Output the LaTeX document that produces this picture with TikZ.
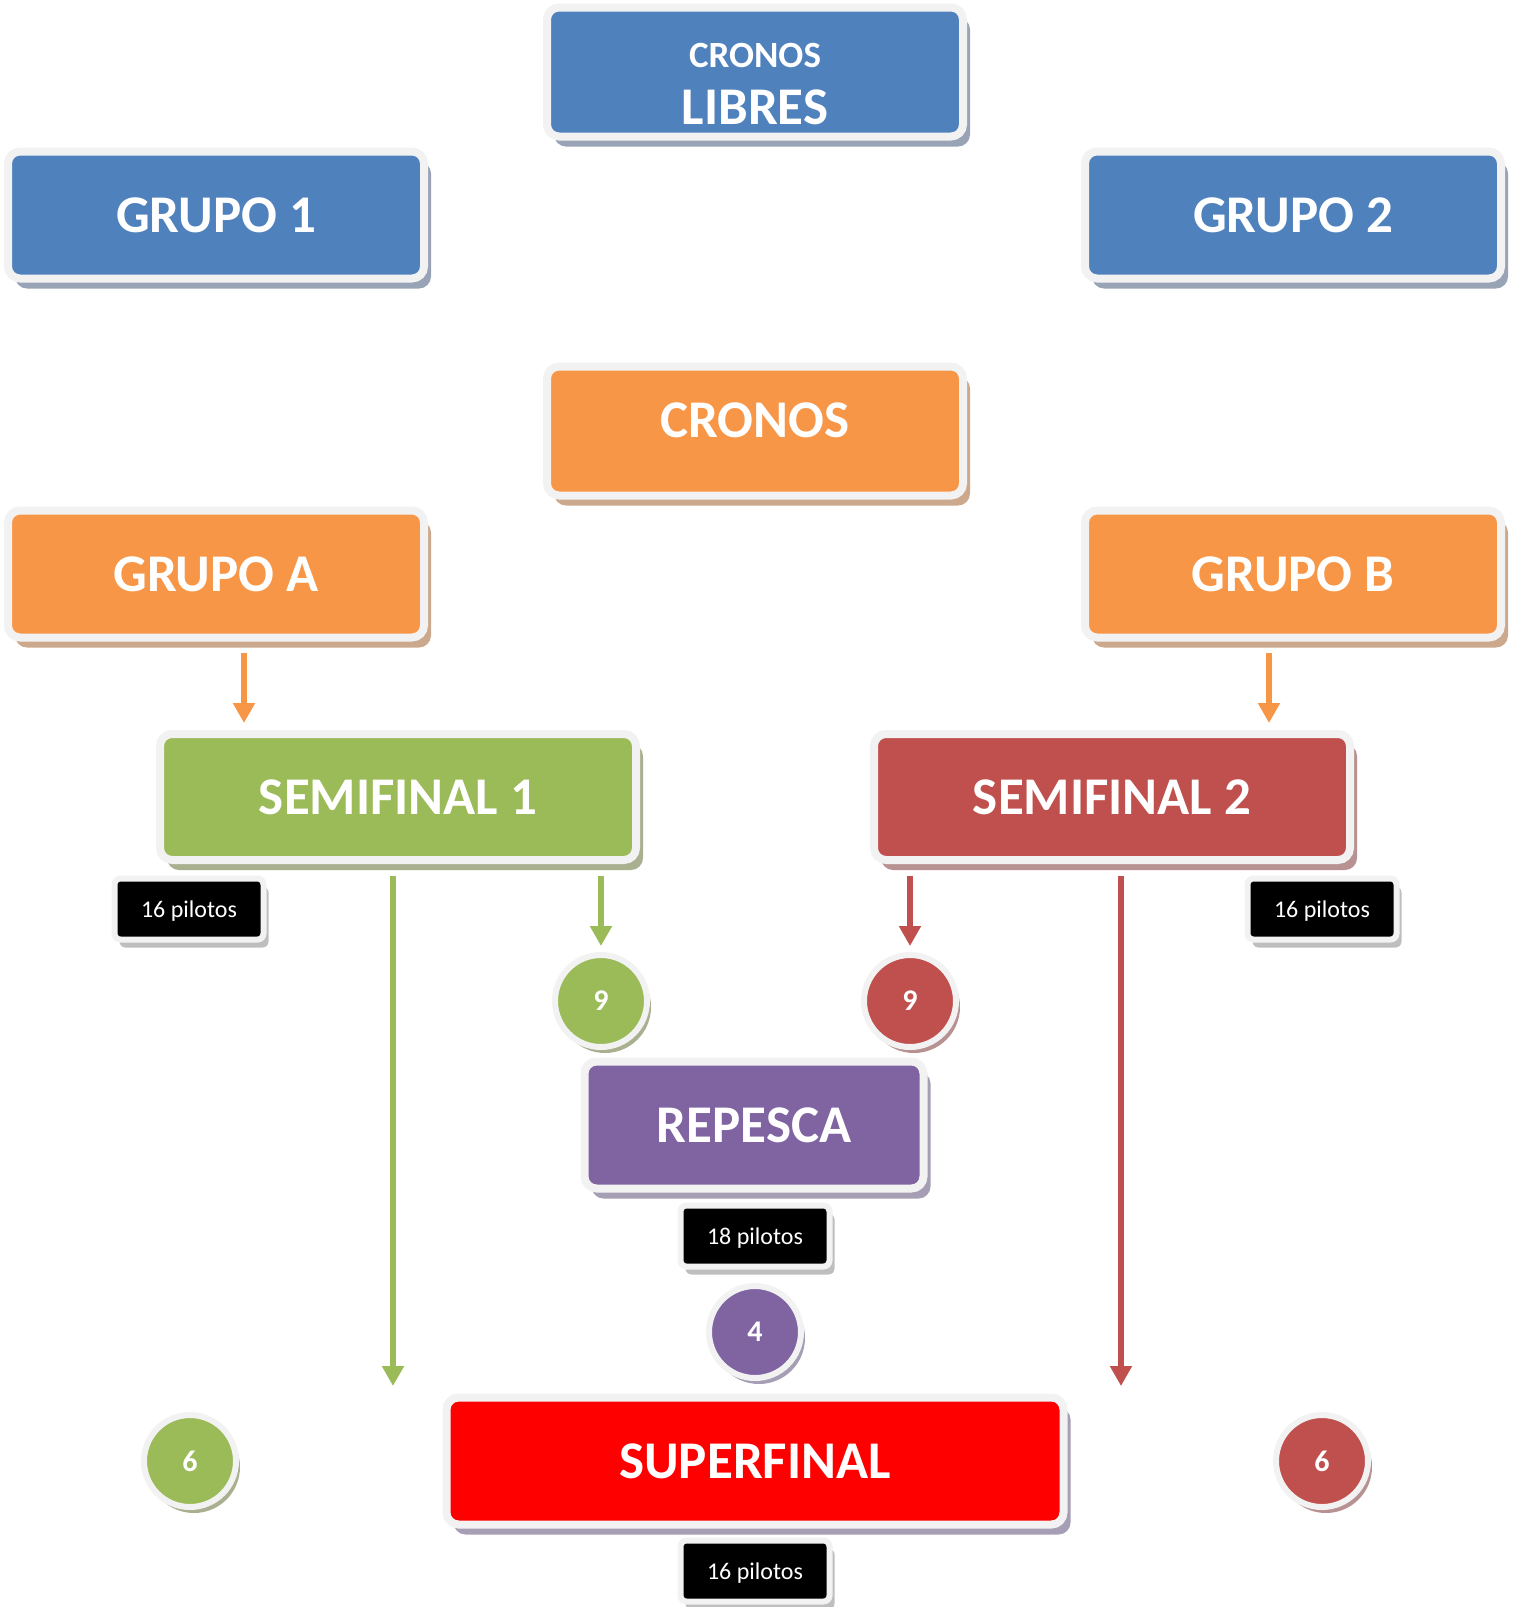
\documentclass[tikz,border=0pt]{standalone}
\usepackage{fontspec}
\setmainfont{Carlito}
\usetikzlibrary{arrows.meta,shadows}
\definecolor{azul}{RGB}{79,129,189}
\definecolor{naranja}{RGB}{247,150,70}
\definecolor{verde}{RGB}{155,187,89}
\definecolor{rojo}{RGB}{192,80,77}
\definecolor{morado}{RGB}{128,100,162}
\definecolor{rojofinal}{RGB}{255,0,0}
\definecolor{borde}{RGB}{242,242,242}
\definecolor{shazul}{RGB}{152,163,182}
\definecolor{shnaranja}{RGB}{204,168,140}
\definecolor{shverde}{RGB}{168,176,144}
\definecolor{shrojo}{RGB}{184,146,146}
\definecolor{shmorado}{RGB}{165,158,180}
\definecolor{shnegro}{RGB}{190,190,190}
\tikzset{>={Triangle[width=21pt,length=20pt]}}
\tikzset{
  sombra/.style={drop shadow={shadow xshift=7pt,shadow yshift=-10pt,fill=#1,opacity=1}},
  caja/.style={rectangle, rounded corners=12pt, draw=borde, line width=8pt,
    inner sep=0pt, outer sep=0pt, text=white, minimum height=127pt,
    font=\fontsize{53}{58}\selectfont\bfseries},
  etiqueta/.style={rectangle, rounded corners=6pt, fill=black, draw=borde, line width=6pt,
    inner sep=0pt, outer sep=0pt, text=white, minimum width=149pt, minimum height=61pt,
    text height=16pt, text depth=0pt, font=\fontsize{24}{26}\selectfont,
    drop shadow={shadow xshift=5pt,shadow yshift=-8pt,fill=shnegro,opacity=1}},
  bola/.style={circle, draw=borde, line width=6pt, inner sep=0pt, outer sep=0pt,
    minimum size=92pt, text=white, font=\fontsize{30}{32}\selectfont\bfseries,
    drop shadow={shadow xshift=4pt,shadow yshift=-6pt,fill=#1,opacity=1}},
  flecha/.style={->, line width=6pt, draw=#1, shorten <=15pt}
}
\begin{document}
\begin{tikzpicture}[x=1pt,y=-1pt]
\useasboundingbox (0,0) rectangle (1516,1607);
% libres
\node[caja, fill=azul, sombra=shazul, minimum width=416pt, minimum height=129pt, align=center]
  (libres) at (755,72) {\rule{0pt}{48pt}\fontsize{37}{40}\selectfont CRONOS\\[-1pt]\fontsize{53}{58}\selectfont LIBRES};
\node[caja, fill=azul, sombra=shazul, minimum width=416pt] (grupo1) at (216,215) {GRUPO 1};
\node[caja, fill=azul, sombra=shazul, minimum width=416pt] (grupo2) at (1293,215) {GRUPO 2};
% cronos
\node[caja, fill=naranja, sombra=shnaranja, minimum width=416pt, minimum height=129pt, text depth=22pt] (cronos) at (755,431) {CRONOS};
\node[caja, fill=naranja, sombra=shnaranja, minimum width=416pt] (grupoA) at (216,574) {GRUPO A};
\node[caja, fill=naranja, sombra=shnaranja, minimum width=416pt] (grupoB) at (1293,574) {GRUPO B};
% semifinales
\node[caja, fill=verde, sombra=shverde, minimum width=476pt, minimum height=126pt] (semi1) at (398,797) {SEMIFINAL 1};
\node[caja, fill=rojo, sombra=shrojo, minimum width=476pt, minimum height=126pt] (semi2) at (1112,797) {SEMIFINAL 2};
\node[etiqueta] (pil1) at (189,909) {16 pilotos};
\node[etiqueta] (pil2) at (1322,909) {16 pilotos};
\node[bola=shverde, fill=verde] (g9) at (601,1001) {9};
\node[bola=shrojo, fill=rojo] (r9) at (910,1001) {9};
% repesca y superfinal
\node[caja, fill=morado, sombra=shmorado, minimum width=339pt] (repesca) at (754,1125) {REPESCA};
\node[etiqueta] (pil18) at (755,1236) {18 pilotos};
\node[bola=shmorado, fill=morado] (p4) at (755,1332) {4};
\node[caja, fill=rojofinal, sombra=shmorado, minimum width=617pt] (superfinal) at (755,1461) {SUPERFINAL};
\node[etiqueta] (pilsf) at (755,1571) {16 pilotos};
\node[bola=shverde, fill=verde] (g6) at (190,1461) {6};
\node[bola=shrojo, fill=rojo] (r6) at (1322,1461) {6};
% flechas
\coordinate (A1) at (244,723);
\coordinate (B1) at (1269,723);
\coordinate (ge) at (393,1386);
\coordinate (re) at (1121,1386);
\draw[flecha=naranja] (grupoA.south -| A1) -- (A1);
\draw[flecha=naranja] (grupoB.south -| B1) -- (B1);
\draw[flecha=verde, shorten <=16pt] (semi1.south -| ge) -- (ge);
\draw[flecha=verde, shorten <=16pt, shorten >=9pt] (semi1.south -| g9.north) -- (g9.north);
\draw[flecha=rojo, shorten <=16pt, shorten >=9pt] (semi2.south -| r9.north) -- (r9.north);
\draw[flecha=rojo, shorten <=16pt] (semi2.south -| re) -- (re);
\end{tikzpicture}
\end{document}
